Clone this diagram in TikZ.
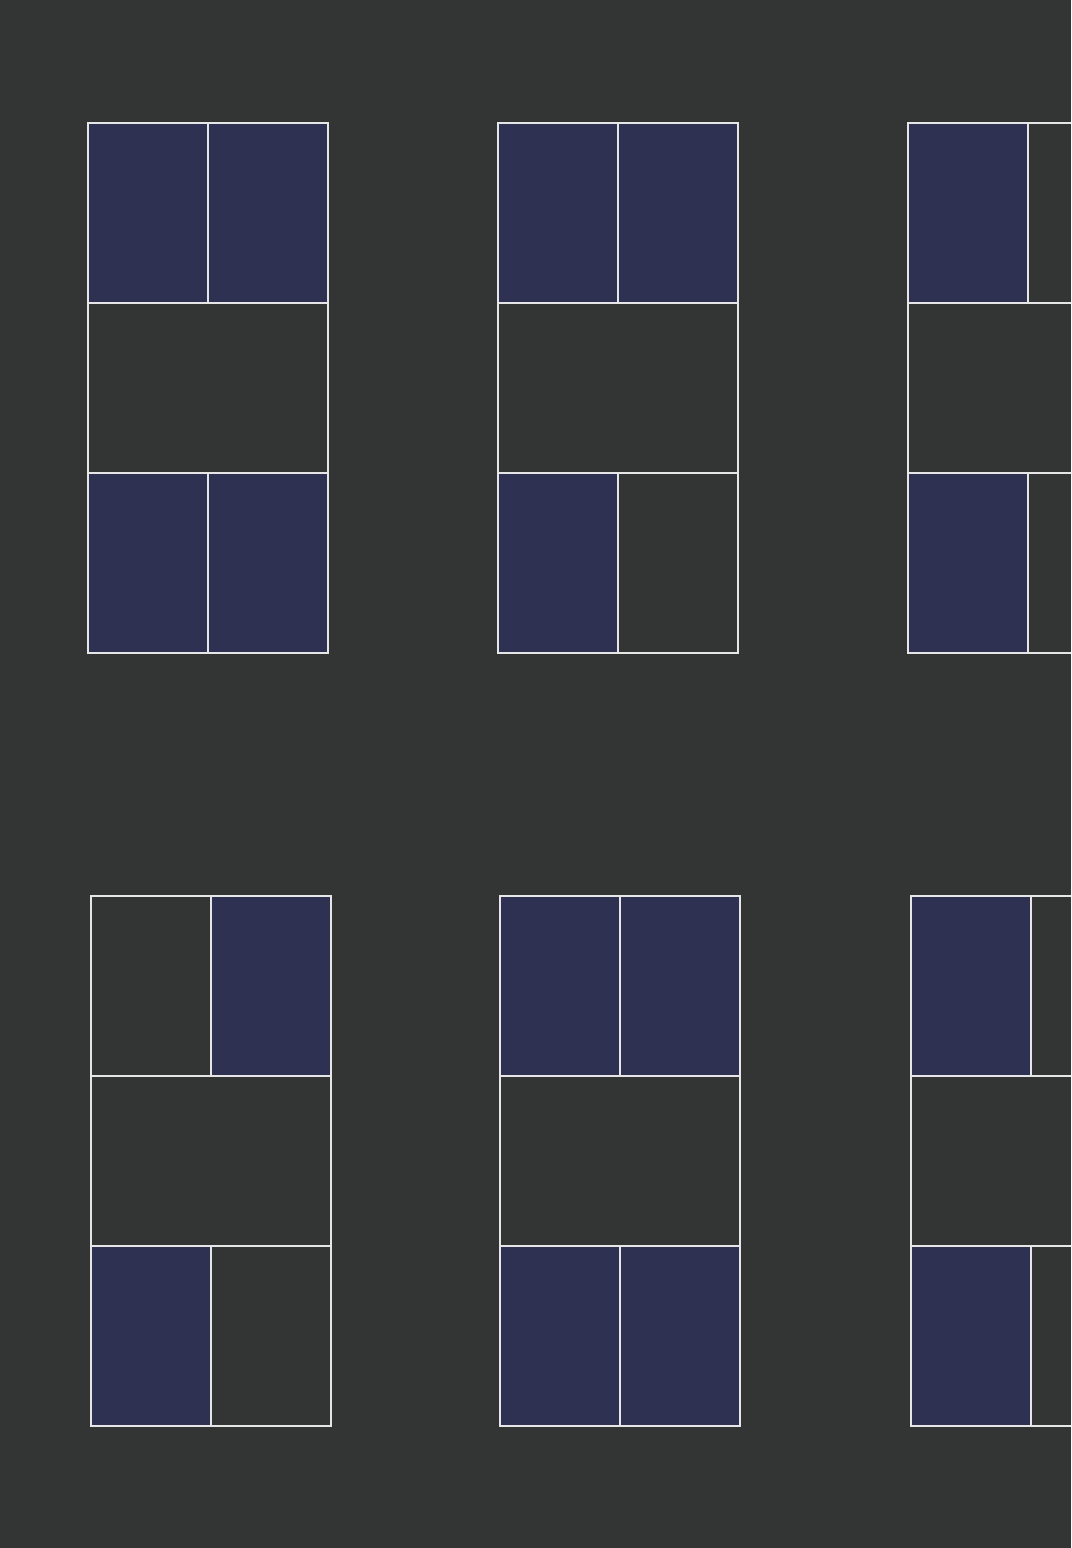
\documentclass[tikz,border=0pt]{standalone}
\usepackage{tikz}
\definecolor{wallgray}{HTML}{323533}
\definecolor{glassblue}{HTML}{2F3153}
\definecolor{framewhite}{HTML}{E6E6E6}
\tikzset{
  pane/.style={draw=framewhite, line width=0.7pt, fill=glassblue, inner sep=0pt, outer sep=0pt, minimum width=1.2cm, minimum height=1.8cm},
  openpane/.style={draw=framewhite, line width=0.7pt, fill=none, inner sep=0pt, outer sep=0pt, minimum width=1.2cm, minimum height=1.8cm},
  band/.style={draw=framewhite, line width=0.7pt, fill=none, inner sep=0pt, outer sep=0pt, minimum width=2.4cm, minimum height=1.7cm}
}

\begin{document}
\begin{tikzpicture}
  \useasboundingbox (0,0) rectangle (10.71,15.48);
  \clip (0,0) rectangle (10.71,15.48);
  \fill[wallgray] (0,0) rectangle (10.71,15.48);

  % upper row of windows
  \node[pane] (aTL) at (1.48,13.35) {};
  \node[pane] (aTR) at (2.68,13.35) {};
  \node[band] (aMid) at (2.08,11.60) {};
  \node[pane] (aBL) at (1.48,9.85) {};
  \node[pane] (aBR) at (2.68,9.85) {};

  \node[pane] (bTL) at (5.58,13.35) {};
  \node[pane] (bTR) at (6.78,13.35) {};
  \node[band] (bMid) at (6.18,11.60) {};
  \node[pane] (bBL) at (5.58,9.85) {};
  \node[openpane] (bBR) at (6.78,9.85) {};

  \node[pane] (cTL) at (9.68,13.35) {};
  \node[openpane] (cTR) at (10.88,13.35) {};
  \node[band] (cMid) at (10.28,11.60) {};
  \node[pane] (cBL) at (9.68,9.85) {};
  \node[openpane] (cBR) at (10.88,9.85) {};

  % lower row of windows
  \node[openpane] (dTL) at (1.51,5.62) {};
  \node[pane] (dTR) at (2.71,5.62) {};
  \node[band] (dMid) at (2.11,3.87) {};
  \node[pane] (dBL) at (1.51,2.12) {};
  \node[openpane] (dBR) at (2.71,2.12) {};

  \node[pane] (eTL) at (5.60,5.62) {};
  \node[pane] (eTR) at (6.80,5.62) {};
  \node[band] (eMid) at (6.20,3.87) {};
  \node[pane] (eBL) at (5.60,2.12) {};
  \node[pane] (eBR) at (6.80,2.12) {};

  \node[pane] (fTL) at (9.71,5.62) {};
  \node[openpane] (fTR) at (10.91,5.62) {};
  \node[band] (fMid) at (10.31,3.87) {};
  \node[pane] (fBL) at (9.71,2.12) {};
  \node[openpane] (fBR) at (10.91,2.12) {};
\end{tikzpicture}
\end{document}
